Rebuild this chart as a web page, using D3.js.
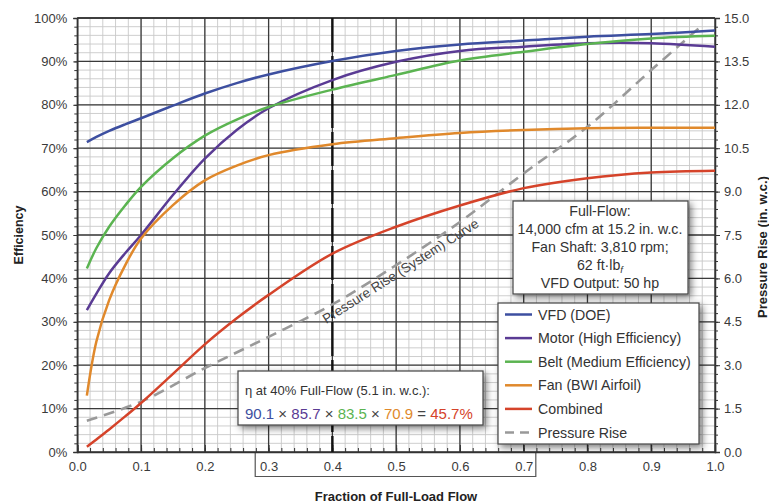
<!DOCTYPE html>
<html><head><meta charset="utf-8">
<script src="https://cdn.jsdelivr.net/npm/d3@7"></script>
<style>
body{margin:0;background:#fff}
text{font-family:"Liberation Sans",Arial,Helvetica,sans-serif}
</style>
</head><body>
<svg id="chart" width="769" height="503"></svg>
<script>
// ---------- data ----------
const flow      = [0.015, 0.03, 0.05, 0.075, 0.1, 0.15, 0.2, 0.25, 0.3, 0.4, 0.5, 0.6, 0.7, 0.8, 0.9, 1.0];
const vfd       = [71.4, 72.6, 74.0, 75.5, 76.9, 79.8, 82.6, 85.0, 87.0, 90.1, 92.4, 93.9, 94.8, 95.7, 96.3, 97.1];
const motor     = [32.7, 36.5, 41.2, 45.8, 50.0, 59.2, 67.6, 74.2, 79.2, 85.7, 89.9, 92.4, 93.4, 94.2, 94.2, 93.4];
const belt      = [42.3, 47.0, 51.9, 56.8, 61.1, 67.7, 72.9, 76.6, 79.5, 83.5, 86.9, 90.2, 92.2, 94.0, 95.3, 95.9];
const fan       = [13.0, 25.5, 35.0, 43.0, 49.2, 56.9, 62.6, 66.0, 68.4, 70.9, 72.3, 73.5, 74.2, 74.6, 74.7, 74.7];
const combined  = [1.2, 2.9, 5.2, 8.2, 11.3, 18.0, 24.8, 30.8, 36.2, 45.7, 51.9, 56.8, 60.8, 63.1, 64.4, 64.8];
const pressureFlow = [0.015, 0.1, 0.2, 0.3, 0.4, 0.5, 0.6, 0.7, 0.8, 0.9, 0.98];
const pressure     = [1.08, 1.74, 2.9, 3.98, 5.1, 6.46, 7.95, 9.63, 11.24, 13.2, 14.75];

const seriesNames  = ["VFD (DOE)", "Motor (High Efficiency)", "Belt (Medium Efficiency)", "Fan (BWI Airfoil)", "Combined", "Pressure Rise"];
const seriesColors = ["#3d4fa0", "#5a3b94", "#5bb451", "#e0892c", "#d5432a", "#999999"];

const flowTicks = [0, 0.1, 0.2, 0.3, 0.4, 0.5, 0.6, 0.7, 0.8, 0.9, 1.0];
const effTicks  = [0, 10, 20, 30, 40, 50, 60, 70, 80, 90, 100];
const presTicks = [0, 1.5, 3, 4.5, 6, 7.5, 9, 10.5, 12, 13.5, 15];

const noteLines = ["Full-Flow:", "14,000 cfm at 15.2 in. w.c.", "Fan Shaft: 3,810 rpm;", "62 ft·lb", "VFD Output: 50 hp"];
const etaTitle  = "η at 40% Full-Flow (5.1 in. w.c.):";
const etaValues = [90.1, 85.7, 83.5, 70.9, 45.7];

// ---------- layout ----------
const L = 77.3, R = 715, T = 18, B = 452;
const svg = d3.select("#chart");
const x  = d3.scaleLinear().domain([0, 1]).range([L, R]);
const y  = d3.scaleLinear().domain([0, 100]).range([B, T]);
const yR = d3.scaleLinear().domain([0, 15]).range([B, T]);

const defs = svg.append("defs");
const f = defs.append("filter").attr("id","shadow").attr("x","-10%").attr("y","-10%").attr("width","130%").attr("height","130%");
f.append("feDropShadow").attr("dx",3).attr("dy",3).attr("stdDeviation",3.5).attr("flood-color","#000").attr("flood-opacity",0.5);

// minor grid
const g = svg.append("g");
const minorX = d3.range(0, 1.0001, 0.02);
const minorY = d3.range(0, 100.001, 2);
g.selectAll(".mx").data(minorX).join("line")
  .attr("x1", d => x(d)).attr("x2", d => x(d)).attr("y1", T).attr("y2", B)
  .attr("stroke", "#c8c8c8").attr("stroke-width", 0.9);
g.selectAll(".my").data(minorY).join("line")
  .attr("y1", d => y(d)).attr("y2", d => y(d)).attr("x1", L).attr("x2", R)
  .attr("stroke", "#c8c8c8").attr("stroke-width", 0.9);
// major grid
g.selectAll(".Mx").data(flowTicks).join("line")
  .attr("x1", d => x(d)).attr("x2", d => x(d)).attr("y1", T).attr("y2", B)
  .attr("stroke", "#3a3a3a").attr("stroke-width", 1.3);
g.selectAll(".My").data(effTicks).join("line")
  .attr("y1", d => y(d)).attr("y2", d => y(d)).attr("x1", L).attr("x2", R)
  .attr("stroke", "#3a3a3a").attr("stroke-width", 1.3);

// artifact box behind x-axis labels
svg.append("path")
  .attr("d", `M${x(0.279)},${B} V${B+24.5} H${x(0.719)} V${B}`)
  .attr("fill","none").attr("stroke","#555").attr("stroke-width",1.2);

// axes
const axisStyle = sel => {
  sel.select(".domain").attr("stroke","#333").attr("stroke-width",1.5);
  sel.selectAll(".tick line").attr("stroke","#333");
  sel.selectAll("text").attr("fill","#3a3a3a").attr("font-size",13)
     .attr("font-family","'Liberation Sans',Arial,sans-serif");
};
// minor ticks
svg.append("g").attr("transform",`translate(0,${B})`)
  .call(d3.axisBottom(x).tickValues(minorX).tickSize(-4).tickFormat(""))
  .call(s => { s.select(".domain").remove(); s.selectAll("line").attr("stroke","#333"); });
svg.append("g").attr("transform",`translate(${L},0)`)
  .call(d3.axisLeft(y).tickValues(minorY).tickSize(3).tickFormat(""))
  .call(s => { s.select(".domain").remove(); s.selectAll("line").attr("stroke","#333"); });
svg.append("g").attr("transform",`translate(${R},0)`)
  .call(d3.axisRight(yR).tickValues(d3.range(0,15.001,0.3)).tickSize(3).tickFormat(""))
  .call(s => { s.select(".domain").remove(); s.selectAll("line").attr("stroke","#333"); });

svg.append("g").attr("transform",`translate(0,${B})`)
  .call(d3.axisBottom(x).tickValues(flowTicks).tickSize(-7).tickPadding(10).tickFormat(d3.format(".1f")))
  .call(axisStyle);
svg.append("g").attr("transform",`translate(${L},0)`)
  .call(d3.axisLeft(y).tickValues(effTicks).tickSize(4).tickPadding(6).tickFormat(d => d + "%"))
  .call(axisStyle);
svg.append("g").attr("transform",`translate(${R},0)`)
  .call(d3.axisRight(yR).tickValues(presTicks).tickSize(5).tickPadding(4).tickFormat(d3.format(".1f")))
  .call(axisStyle);
svg.append("line").attr("x1",L).attr("x2",R).attr("y1",T).attr("y2",T).attr("stroke","#333").attr("stroke-width",1.5);

// vertical dashed marker at 40%
svg.append("line").attr("x1",x(0.4)).attr("x2",x(0.4)).attr("y1",T).attr("y2",B)
  .attr("stroke","#111").attr("stroke-width",2.4).attr("stroke-dasharray","34 4");

// pressure curve
const lineP = d3.line().x((d,i) => x(pressureFlow[i])).y(d => yR(d)).curve(d3.curveCatmullRom);
svg.append("path").attr("d", lineP(pressure)).attr("fill","none")
  .attr("stroke", seriesColors[5]).attr("stroke-width",2.6).attr("stroke-dasharray","11 7");

// efficiency curves
const effSeries = [vfd, motor, belt, fan, combined];
const lineE = d3.line().x((d,i) => x(flow[i])).y(d => y(d)).curve(d3.curveCatmullRom);
effSeries.forEach((s, k) => {
  svg.append("path").attr("d", lineE(s)).attr("fill","none")
    .attr("stroke", seriesColors[k]).attr("stroke-width",2.5);
});

// rotated curve label
svg.append("text").attr("transform", "translate(403,275) rotate(-32.5)")
  .attr("text-anchor","middle").attr("font-size",13.5).attr("fill","#444")
  .text("Pressure Rise (System) Curve");

// full-flow note box
const nb = svg.append("g");
nb.append("rect").attr("x",513).attr("y",201).attr("width",175).attr("height",93)
  .attr("fill","#fff").attr("stroke","#444").attr("stroke-width",1.2).attr("filter","url(#shadow)");
noteLines.forEach((t, i) => {
  const tx = nb.append("text").attr("x",600).attr("y",215.5 + i*18).attr("text-anchor","middle")
    .attr("font-size",14.2).attr("fill","#333").text(t);
  if (i === 3) tx.append("tspan").attr("font-size",9.5).attr("dy",3).attr("font-style","italic").text("f");
});

// legend
const lg = svg.append("g");
lg.append("rect").attr("x",498).attr("y",303).attr("width",201).attr("height",141)
  .attr("fill","#fff").attr("stroke","#444").attr("stroke-width",1.2).attr("filter","url(#shadow)");
seriesNames.forEach((n, i) => {
  const yy = 314.5 + i*23.6;
  lg.append("line").attr("x1",505).attr("x2",532).attr("y1",yy).attr("y2",yy)
    .attr("stroke", seriesColors[i]).attr("stroke-width", 2.5)
    .attr("stroke-dasharray", i === 5 ? "9 6" : null);
  lg.append("text").attr("x",538).attr("y",yy+5).attr("font-size",14.2).attr("fill","#333").text(n);
});

// eta box
const eb = svg.append("g");
eb.append("rect").attr("x",238).attr("y",371).attr("width",245).attr("height",54)
  .attr("fill","#fff").attr("stroke","#444").attr("stroke-width",1.2).attr("filter","url(#shadow)");
eb.append("text").attr("x",245).attr("y",394.5).attr("font-size",13).attr("fill","#333").text(etaTitle);
const t2 = eb.append("text").attr("x",245).attr("y",418.5).attr("font-size",15).attr("fill","#333");
etaValues.forEach((v, i) => {
  if (i > 0 && i < 4) t2.append("tspan").attr("fill","#444").text(" × ");
  if (i === 4) t2.append("tspan").attr("fill","#444").text(" = ");
  t2.append("tspan").attr("fill", seriesColors[i]).text(v.toFixed(1) + (i === 4 ? "%" : ""));
});

// axis titles
svg.append("text").attr("transform",`translate(23,235) rotate(-90)`).attr("text-anchor","middle")
  .attr("font-size",12.5).attr("font-weight","bold").attr("fill","#222").text("Efficiency");
svg.append("text").attr("transform",`translate(767,247) rotate(-90)`).attr("text-anchor","middle")
  .attr("font-size",13).attr("font-weight","bold").attr("fill","#222").text("Pressure Rise (in. w.c.)");
svg.append("text").attr("x",396).attr("y",501).attr("text-anchor","middle")
  .attr("font-size",13).attr("font-weight","bold").attr("fill","#222").text("Fraction of Full-Load Flow");
</script>
</body></html>
